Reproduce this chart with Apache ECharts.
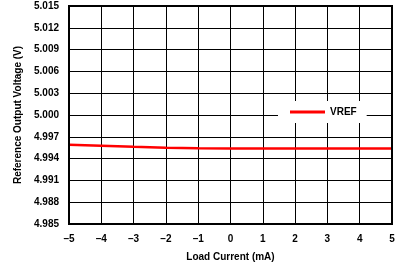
<!DOCTYPE html>
<html><head><meta charset="utf-8">
<script src="https://cdn.jsdelivr.net/npm/echarts@6/dist/echarts.min.js"></script>
<style>html,body{margin:0;padding:0;background:#fff}#c{width:406px;height:267px}</style>
</head><body><div id="c"></div>
<script>
const loadCurrent = [-5, -4, -3, -2, -1, 0, 1, 2, 3, 4, 5];
const vref = [4.99592, 4.99578, 4.99563, 4.99549, 4.99541, 4.99539, 4.99538, 4.99538, 4.99538, 4.99538, 4.99538];
const seriesName = 'VREF';
const xTitle = 'Load Current (mA)';
const yTitle = 'Reference Output Voltage (V)';

const font = 'Liberation Sans, Arial, Helvetica, sans-serif';
const chart = echarts.init(document.getElementById('c'), null, {renderer: 'canvas'});
chart.setOption({
  animation: false,
  backgroundColor: '#fff',
  grid: {left: 69, right: 14, top: 6, bottom: 43, show: true, borderColor: '#000', borderWidth: 2, backgroundColor: 'transparent', z: 10},
  legend: {
    data: [{name: seriesName, icon: 'rect'}],
    left: 278, top: 101, padding: [6, 10, 6, 12],
    itemWidth: 35, itemHeight: 3,
    backgroundColor: '#fff',
    textStyle: {fontFamily: font, fontWeight: 'bold', fontSize: 10, color: '#000'}
  },
  xAxis: {
    type: 'value', min: -5, max: 5, interval: 1,
    name: xTitle, nameLocation: 'middle', nameGap: 28,
    nameTextStyle: {fontFamily: font, fontWeight: 'bold', fontSize: 10, color: '#000'},
    axisLine: {show: false}, axisTick: {show: false},
    axisLabel: {margin: 10, fontFamily: font, fontWeight: 'bold', fontSize: 10, color: '#000',
      formatter: v => String(v).replace('-', '\u2013')},
    splitLine: {show: true, lineStyle: {color: '#000', width: 1}}
  },
  yAxis: {
    type: 'value', min: 4.985, max: 5.015, interval: 0.003,
    name: yTitle, nameLocation: 'middle', nameGap: 46, nameRotate: 90,
    nameTextStyle: {fontFamily: font, fontWeight: 'bold', fontSize: 10, color: '#000'},
    axisLine: {show: false}, axisTick: {show: false},
    axisLabel: {margin: 10, fontFamily: font, fontWeight: 'bold', fontSize: 10, color: '#000',
      formatter: v => v.toFixed(3)},
    splitLine: {show: true, lineStyle: {color: '#000', width: 1}}
  },
  series: [{
    name: seriesName, type: 'line', showSymbol: false, symbol: 'none',
    data: loadCurrent.map((x, i) => [x, vref[i]]),
    lineStyle: {color: '#ff0000', width: 2.5}, itemStyle: {color: '#ff0000'}
  }]
});
</script></body></html>
